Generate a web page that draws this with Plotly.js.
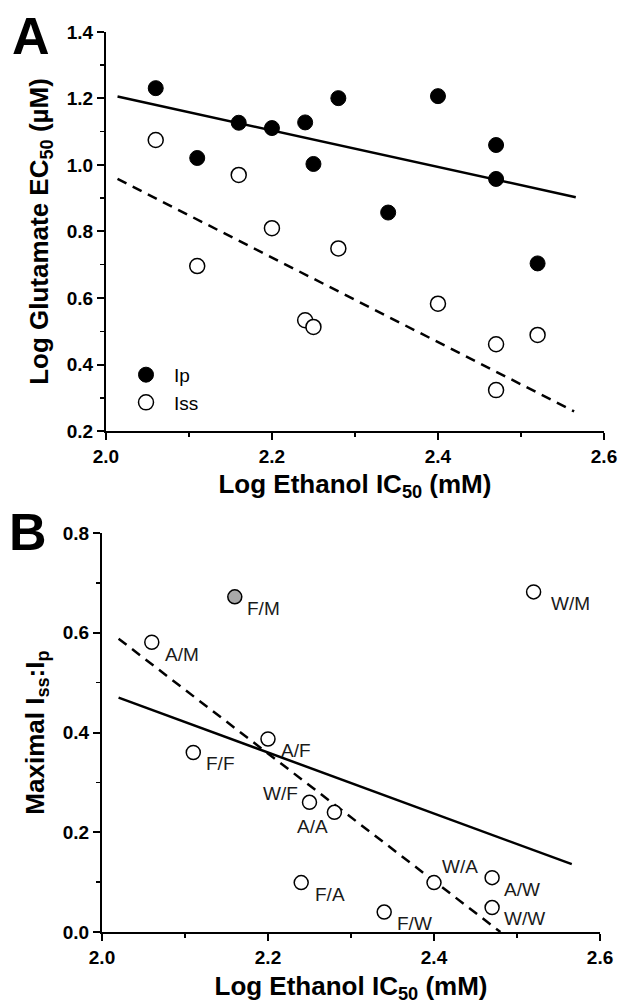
<!DOCTYPE html>
<html>
<head>
<meta charset="utf-8">
<script src="https://cdn.plot.ly/plotly-3.0.1.min.js"></script>
<style>html,body{margin:0;padding:0;background:#fff;}#chart{width:623px;height:1008px;}</style>
</head>
<body>
<div id="chart"></div>
<script>
// Panel A data
const ipX  = [2.06, 2.11, 2.16, 2.20, 2.24, 2.25, 2.28, 2.34, 2.40, 2.47, 2.47, 2.52];
const ipY  = [1.231, 1.021, 1.127, 1.111, 1.128, 1.003, 1.201, 0.857, 1.207, 1.060, 0.958, 0.704];
const issX = [2.06, 2.11, 2.16, 2.20, 2.24, 2.25, 2.28, 2.40, 2.47, 2.47, 2.52];
const issY = [1.075, 0.696, 0.970, 0.810, 0.533, 0.513, 0.749, 0.583, 0.461, 0.323, 0.489];
const fitIpX  = [2.014, 2.566];
const fitIpY  = [1.206, 0.903];
const fitIssX = [2.014, 2.564];
const fitIssY = [0.958, 0.259];

// Panel B data
const ratioLabels = ["A/M", "F/F", "A/F", "F/A", "W/F", "A/A", "F/W", "W/A", "A/W", "W/W", "W/M"];
const ratioX = [2.06, 2.11, 2.20, 2.24, 2.25, 2.28, 2.34, 2.40, 2.47, 2.47, 2.52];
const ratioY = [0.581, 0.360, 0.387, 0.099, 0.260, 0.240, 0.040, 0.099, 0.109, 0.049, 0.682];
const grayLabels = ["F/M"];
const grayX = [2.16];
const grayY = [0.672];
const fitSolidBX = [2.020, 2.566];
const fitSolidBY = [0.470, 0.136];
const fitDashBX  = [2.020, 2.480];
const fitDashBY  = [0.588, 0.000];

// label placement styling (pixel offsets of each label from its point)
const labelStyle = {
  "A/M": {anchor: "left", dx: 11, dy: -12}, "F/F": {anchor: "left", dx: 11, dy: -11},
  "A/F": {anchor: "left", dx: 11, dy: -11}, "F/A": {anchor: "left", dx: 12, dy: -12},
  "W/F": {anchor: "right", dx: -9, dy: 9},  "A/A": {anchor: "right", dx: -4, dy: -14},
  "F/W": {anchor: "left", dx: 11, dy: -11}, "W/A": {anchor: "left", dx: 6, dy: 16},
  "A/W": {anchor: "left", dx: 10, dy: -12}, "W/W": {anchor: "left", dx: 10, dy: -11},
  "W/M": {anchor: "left", dx: 15, dy: -12}, "F/M": {anchor: "left", dx: 10, dy: -12}
};

const FONT = "Liberation Sans, Arial, Helvetica, sans-serif";

const traces = [
  {x: fitIpX, y: fitIpY, mode: "lines", line: {color: "black", width: 2.5}, showlegend: false, hoverinfo: "skip", xaxis: "x", yaxis: "y"},
  {x: fitIssX, y: fitIssY, mode: "lines", line: {color: "black", width: 2.5, dash: "10px,7px"}, showlegend: false, hoverinfo: "skip", xaxis: "x", yaxis: "y"},
  {x: ipX, y: ipY, name: "Ip", mode: "markers", marker: {color: "black", size: 15, line: {color: "black", width: 1}}, xaxis: "x", yaxis: "y"},
  {x: issX, y: issY, name: "Iss", mode: "markers", marker: {color: "white", size: 15, line: {color: "black", width: 1.5}}, xaxis: "x", yaxis: "y"},
  {x: fitSolidBX, y: fitSolidBY, mode: "lines", line: {color: "black", width: 2.5}, showlegend: false, hoverinfo: "skip", xaxis: "x2", yaxis: "y2"},
  {x: fitDashBX, y: fitDashBY, mode: "lines", line: {color: "black", width: 2.5, dash: "10px,7px"}, showlegend: false, hoverinfo: "skip", xaxis: "x2", yaxis: "y2"},
  {x: ratioX, y: ratioY, mode: "markers",
   marker: {color: "white", size: 14, line: {color: "black", width: 1.5}}, showlegend: false, xaxis: "x2", yaxis: "y2", cliponaxis: false},
  {x: grayX, y: grayY, mode: "markers",
   marker: {color: "#a8a8a8", size: 14, line: {color: "black", width: 1.5}}, showlegend: false, xaxis: "x2", yaxis: "y2", cliponaxis: false}
];

function axisCommon(extra) {
  return Object.assign({
    showline: true, linewidth: 2, linecolor: "black", mirror: false,
    ticks: "outside", ticklen: 7, tickwidth: 2, tickcolor: "black",
    showgrid: false, zeroline: false, tickformat: ".1f",
    tickfont: {family: FONT, size: 19, color: "black", weight: "bold"},
    minor: {dtick: 0.1, ticks: "outside", ticklen: 4, tickwidth: 1.5, tickcolor: "black", showgrid: false}
  }, extra);
}

function labelAnnotations(labels, xs, ys) {
  return labels.map((t, i) => {
    const s = labelStyle[t];
    return {text: t, x: xs[i], y: ys[i], xref: "x2", yref: "y2", showarrow: false,
            xanchor: s.anchor, yanchor: "middle", xshift: s.dx, yshift: s.dy,
            font: {family: FONT, size: 19, color: "#1a1a1a"}};
  });
}

const TITLE_FONT = {family: FONT, size: 26, weight: "bold", color: "black"};

const layout = {
  width: 623, height: 1008,
  margin: {l: 0, r: 0, t: 0, b: 0},
  paper_bgcolor: "white", plot_bgcolor: "white",
  font: {family: FONT, color: "black"},
  showlegend: true,
  legend: {x: 118/623, y: 0.647, xanchor: "left", yanchor: "top", bgcolor: "rgba(0,0,0,0)",
           itemwidth: 46, font: {family: FONT, size: 19, color: "black"}, tracegroupgap: 0},
  xaxis: axisCommon({domain: [0.170, 0.9695], anchor: "y", range: [2.0, 2.6], tick0: 2.0, dtick: 0.2,
    title: {text: "Log Ethanol IC<sub>50</sub> (mM)", font: TITLE_FONT, standoff: 9}}),
  yaxis: axisCommon({domain: [0.5724, 0.9683], anchor: "x", range: [0.2, 1.4], tick0: 0.2, dtick: 0.2,
    title: {text: "Log Glutamate EC<sub>50</sub> (µM)", font: TITLE_FONT, standoff: 11}}),
  xaxis2: axisCommon({domain: [0.1637, 0.9631], anchor: "y2", range: [2.0, 2.6], tick0: 2.0, dtick: 0.2,
    title: {text: "Log Ethanol IC<sub>50</sub> (mM)", font: TITLE_FONT, standoff: 10}}),
  yaxis2: axisCommon({domain: [0.0754, 0.4712], anchor: "x2", range: [0, 0.8], tick0: 0, dtick: 0.2,
    title: {text: "Maximal I<sub>ss</sub>:I<sub>p</sub>", font: TITLE_FONT, standoff: 11}}),
  annotations: [
    {text: "<b>A</b>", xref: "paper", yref: "paper", x: 31/623, y: 1 - 36/1008, xanchor: "center", yanchor: "middle", showarrow: false, font: {family: FONT, size: 52, color: "black"}},
    {text: "<b>B</b>", xref: "paper", yref: "paper", x: 28/623, y: 1 - 532/1008, xanchor: "center", yanchor: "middle", showarrow: false, font: {family: FONT, size: 52, color: "black"}}
  ].concat(labelAnnotations(ratioLabels, ratioX, ratioY), labelAnnotations(grayLabels, grayX, grayY))
};

Plotly.newPlot("chart", traces, layout, {staticPlot: true, displayModeBar: false});
</script>
</body>
</html>
